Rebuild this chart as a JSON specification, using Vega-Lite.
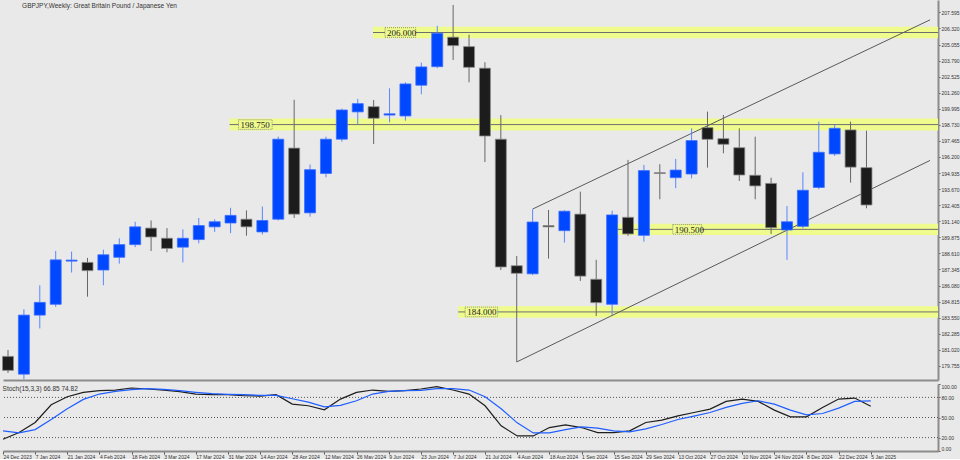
{
  "$schema": "https://vega.github.io/schema/vega-lite/v6.json",
  "background": "#e9e9e9",
  "padding": 0,
  "spacing": 3,
  "config": {
    "view": {"stroke": null},
    "axis": {"labelFont": "Liberation Sans", "labelFontSize": 5, "labelColor": "#333", "grid": false, "title": null, "labelOverlap": false},
    "axisQuantitative": {"labelOverlap": false},
    "title": {"font": "Liberation Sans", "fontSize": 6.5, "fontWeight": "normal", "color": "#333", "anchor": "start"}
  },
  "datasets": {
    "candles": [
      {"d": "2023-12-24", "o": 180.5, "h": 181.0, "l": 179.2, "c": 179.4},
      {"d": "2023-12-31", "o": 179.1, "h": 184.2, "l": 178.7, "c": 183.75},
      {"d": "2024-01-07", "o": 183.75, "h": 186.1, "l": 182.7, "c": 184.75},
      {"d": "2024-01-14", "o": 184.6, "h": 188.8, "l": 184.4, "c": 188.1},
      {"d": "2024-01-21", "o": 188.0, "h": 188.75, "l": 187.1, "c": 188.08},
      {"d": "2024-01-28", "o": 187.9, "h": 188.25, "l": 185.2, "c": 187.25},
      {"d": "2024-02-04", "o": 187.3, "h": 188.9, "l": 186.1, "c": 188.5},
      {"d": "2024-02-11", "o": 188.3, "h": 189.8, "l": 187.8, "c": 189.3},
      {"d": "2024-02-18", "o": 189.3, "h": 191.1, "l": 189.1, "c": 190.7},
      {"d": "2024-02-25", "o": 190.6, "h": 191.2, "l": 188.8, "c": 189.9},
      {"d": "2024-03-03", "o": 189.8, "h": 190.6, "l": 188.7, "c": 189.0},
      {"d": "2024-03-10", "o": 189.1, "h": 190.5, "l": 187.9, "c": 189.8},
      {"d": "2024-03-17", "o": 189.7, "h": 191.4, "l": 189.4, "c": 190.8},
      {"d": "2024-03-24", "o": 190.7, "h": 191.3, "l": 190.3, "c": 191.1},
      {"d": "2024-03-31", "o": 191.0, "h": 192.2, "l": 190.2, "c": 191.6},
      {"d": "2024-04-07", "o": 191.3, "h": 192.0, "l": 190.0, "c": 190.7},
      {"d": "2024-04-14", "o": 190.3, "h": 192.3, "l": 190.1, "c": 191.2},
      {"d": "2024-04-21", "o": 191.3, "h": 197.8, "l": 191.2, "c": 197.6},
      {"d": "2024-04-28", "o": 196.9, "h": 200.7, "l": 191.4, "c": 191.7},
      {"d": "2024-05-05", "o": 191.8, "h": 195.6, "l": 191.5, "c": 195.2},
      {"d": "2024-05-12", "o": 194.9, "h": 197.8, "l": 194.6, "c": 197.6},
      {"d": "2024-05-19", "o": 197.6, "h": 200.0, "l": 197.4, "c": 199.9},
      {"d": "2024-05-26", "o": 199.75, "h": 200.77, "l": 198.8, "c": 200.4},
      {"d": "2024-06-02", "o": 200.16, "h": 200.69, "l": 197.22, "c": 199.25},
      {"d": "2024-06-09", "o": 199.5, "h": 201.61, "l": 198.93, "c": 199.6},
      {"d": "2024-06-16", "o": 199.43, "h": 202.08, "l": 199.06, "c": 201.95},
      {"d": "2024-06-23", "o": 201.85, "h": 203.63, "l": 201.14, "c": 203.29},
      {"d": "2024-06-30", "o": 203.31, "h": 206.52, "l": 203.19, "c": 205.94},
      {"d": "2024-07-07", "o": 205.63, "h": 208.17, "l": 203.84, "c": 204.97},
      {"d": "2024-07-14", "o": 204.89, "h": 205.83, "l": 202.08, "c": 203.26},
      {"d": "2024-07-21", "o": 203.19, "h": 203.66, "l": 195.8, "c": 197.85},
      {"d": "2024-07-28", "o": 197.6, "h": 199.5, "l": 187.3, "c": 187.54},
      {"d": "2024-08-04", "o": 187.64, "h": 188.4, "l": 180.06, "c": 187.04},
      {"d": "2024-08-11", "o": 187.0, "h": 192.08, "l": 186.9, "c": 191.08},
      {"d": "2024-08-18", "o": 190.8, "h": 192.03, "l": 188.2, "c": 190.7},
      {"d": "2024-08-25", "o": 190.4, "h": 192.0, "l": 189.46, "c": 191.93},
      {"d": "2024-09-01", "o": 191.7, "h": 193.47, "l": 186.44, "c": 186.82},
      {"d": "2024-09-08", "o": 186.57, "h": 188.1, "l": 183.68, "c": 184.73},
      {"d": "2024-09-15", "o": 184.6, "h": 191.97, "l": 183.76, "c": 191.64},
      {"d": "2024-09-22", "o": 191.45, "h": 195.97, "l": 189.98, "c": 190.14},
      {"d": "2024-09-29", "o": 190.03, "h": 195.57, "l": 189.53, "c": 195.13},
      {"d": "2024-10-06", "o": 194.96, "h": 195.63, "l": 192.87, "c": 194.9},
      {"d": "2024-10-13", "o": 194.57, "h": 196.05, "l": 193.74, "c": 195.17},
      {"d": "2024-10-20", "o": 194.86, "h": 198.46, "l": 194.52, "c": 197.49},
      {"d": "2024-10-27", "o": 198.51, "h": 199.77, "l": 195.36, "c": 197.59},
      {"d": "2024-11-03", "o": 197.64, "h": 199.51, "l": 196.49, "c": 197.2},
      {"d": "2024-11-10", "o": 196.93, "h": 198.46, "l": 194.31, "c": 194.78},
      {"d": "2024-11-17", "o": 194.76, "h": 197.8, "l": 192.87, "c": 193.92},
      {"d": "2024-11-24", "o": 194.12, "h": 194.57, "l": 190.14, "c": 190.63},
      {"d": "2024-12-01", "o": 190.45, "h": 192.34, "l": 188.1, "c": 191.1},
      {"d": "2024-12-08", "o": 190.74, "h": 195.0, "l": 190.58, "c": 193.58},
      {"d": "2024-12-15", "o": 193.8, "h": 198.98, "l": 193.66, "c": 196.57},
      {"d": "2024-12-22", "o": 196.44, "h": 198.77, "l": 196.28, "c": 198.46},
      {"d": "2024-12-29", "o": 198.33, "h": 198.98, "l": 194.18, "c": 195.4},
      {"d": "2025-01-05", "o": 195.36, "h": 198.27, "l": 192.16, "c": 192.42}
    ],
    "stoch": [
      {"d": "2023-12-24", "k": 17.5, "s": 30},
      {"d": "2023-12-31", "k": 27.5, "s": 27},
      {"d": "2024-01-07", "k": 42.5, "s": 32},
      {"d": "2024-01-14", "k": 69, "s": 47},
      {"d": "2024-01-21", "k": 81, "s": 63},
      {"d": "2024-01-28", "k": 87.5, "s": 77},
      {"d": "2024-02-04", "k": 90, "s": 85},
      {"d": "2024-02-11", "k": 91, "s": 89},
      {"d": "2024-02-18", "k": 94, "s": 91.5},
      {"d": "2024-02-25", "k": 92.5, "s": 93},
      {"d": "2024-03-03", "k": 91, "s": 92},
      {"d": "2024-03-10", "k": 88.5, "s": 90},
      {"d": "2024-03-17", "k": 85, "s": 87.5},
      {"d": "2024-03-24", "k": 84, "s": 85.5},
      {"d": "2024-03-31", "k": 84, "s": 84.5},
      {"d": "2024-04-07", "k": 82.5, "s": 84},
      {"d": "2024-04-14", "k": 82, "s": 83},
      {"d": "2024-04-21", "k": 84, "s": 83},
      {"d": "2024-04-28", "k": 70, "s": 78},
      {"d": "2024-05-05", "k": 67.5, "s": 73},
      {"d": "2024-05-12", "k": 61.5, "s": 66},
      {"d": "2024-05-19", "k": 77.5, "s": 68},
      {"d": "2024-05-26", "k": 87.5, "s": 75},
      {"d": "2024-06-02", "k": 91, "s": 85},
      {"d": "2024-06-09", "k": 89, "s": 89},
      {"d": "2024-06-16", "k": 90, "s": 90},
      {"d": "2024-06-23", "k": 92.5, "s": 90.5},
      {"d": "2024-06-30", "k": 96, "s": 93},
      {"d": "2024-07-07", "k": 91, "s": 93},
      {"d": "2024-07-14", "k": 85, "s": 91},
      {"d": "2024-07-21", "k": 67.5, "s": 81},
      {"d": "2024-07-28", "k": 37.5, "s": 63},
      {"d": "2024-08-04", "k": 22.5, "s": 42},
      {"d": "2024-08-11", "k": 22.5, "s": 27},
      {"d": "2024-08-18", "k": 35, "s": 27},
      {"d": "2024-08-25", "k": 39, "s": 32},
      {"d": "2024-09-01", "k": 35, "s": 36},
      {"d": "2024-09-08", "k": 27.5, "s": 34},
      {"d": "2024-09-15", "k": 27.5, "s": 30},
      {"d": "2024-09-22", "k": 30, "s": 28.5},
      {"d": "2024-09-29", "k": 42.5, "s": 33},
      {"d": "2024-10-06", "k": 46, "s": 39.5},
      {"d": "2024-10-13", "k": 52.5, "s": 47},
      {"d": "2024-10-20", "k": 57.5, "s": 52},
      {"d": "2024-10-27", "k": 62.5, "s": 57.5},
      {"d": "2024-11-03", "k": 74, "s": 65},
      {"d": "2024-11-10", "k": 77.5, "s": 71},
      {"d": "2024-11-17", "k": 74, "s": 75},
      {"d": "2024-11-24", "k": 61, "s": 70},
      {"d": "2024-12-01", "k": 51, "s": 61},
      {"d": "2024-12-08", "k": 51, "s": 54},
      {"d": "2024-12-15", "k": 65, "s": 56},
      {"d": "2024-12-22", "k": 77.5, "s": 64},
      {"d": "2024-12-29", "k": 79, "s": 74},
      {"d": "2025-01-05", "k": 66.85, "s": 74.82}
    ],
    "levels": [
      {"p": 206.0, "lo": 205.55, "hi": 206.45, "bl": 205.62, "bh": 206.38, "s": "2024-06-01T17:00:00Z", "e": "2025-02-20T00:00:00Z", "ls": "2024-06-07T00:00:00Z", "le": "2024-06-20T12:00:00Z", "t": "206.000"},
      {"p": 198.75, "lo": 198.28, "hi": 199.22, "bl": 198.37, "bh": 199.13, "s": "2024-03-30T14:00:00Z", "e": "2025-02-20T00:00:00Z", "ls": "2024-04-03T12:00:00Z", "le": "2024-04-18T07:00:00Z", "t": "198.750"},
      {"p": 190.5, "lo": 190.05, "hi": 190.95, "bl": 190.12, "bh": 190.88, "s": "2024-09-16T22:00:00Z", "e": "2025-02-20T00:00:00Z", "ls": "2024-10-11T17:00:00Z", "le": "2024-10-24T10:00:00Z", "t": "190.500"},
      {"p": 184.0, "lo": 183.55, "hi": 184.45, "bl": 183.62, "bh": 184.38, "s": "2024-07-09T05:00:00Z", "e": "2025-02-20T00:00:00Z", "ls": "2024-07-12T07:00:00Z", "le": "2024-07-26T14:00:00Z", "t": "184.000"}
    ],
    "channel": [
      {"id": "u", "d": "2024-08-11", "p": 192.1},
      {"id": "u", "d": "2025-02-02", "p": 207.0},
      {"id": "l", "d": "2024-08-04", "p": 180.06},
      {"id": "l", "d": "2025-02-02", "p": 195.93}
    ],
    "stochLevels": [{"v": 20}, {"v": 50}, {"v": 80}]
  },
  "vconcat": [
    {
      "width": 935,
      "height": 380,
      "title": {"text": "GBPJPY,Weekly:  Great Britain Pound / Japanese Yen", "offset": -9, "dx": 20, "baseline": "top"},
      "encoding": {
        "x": {"field": "d", "type": "temporal", "scale": {"type": "utc", "domain": [1703376000000, 1738566000000]},
              "axis": {"labels": false, "ticks": false, "domain": true, "domainColor": "#8c8c8c", "domainWidth": 2}},
        "y": {"type": "quantitative", "scale": {"domain": [178.64, 208.56], "nice": false, "zero": false},
              "axis": {"orient": "right", "values": [179.755, 181.02, 182.285, 183.55, 184.815, 186.08, 187.345, 188.61, 189.875, 191.14, 192.405, 193.67, 194.935, 196.2, 197.465, 198.73, 199.995, 201.26, 202.525, 203.79, 205.055, 206.32, 207.595],
                       "format": ".3f", "labelOverlap": false, "labelFontSize": 5, "tickSize": 2, "tickColor": "#555", "domainColor": "#8c8c8c", "domainWidth": 2, "labelPadding": 1}}
      },
      "layer": [
        {
          "data": {"name": "levels"},
          "mark": {"type": "rect", "color": "#effb8d", "clip": true},
          "encoding": {
            "x": {"field": "s", "type": "temporal"},
            "x2": {"field": "e"},
            "y": {"field": "lo", "type": "quantitative"},
            "y2": {"field": "hi"}
          }
        },
        {
          "data": {"name": "levels"},
          "mark": {"type": "rule", "color": "#6e6e6e", "strokeWidth": 1, "clip": true},
          "encoding": {
            "x": {"field": "s", "type": "temporal"},
            "x2": {"field": "e"},
            "y": {"field": "p", "type": "quantitative"}
          }
        },
        {
          "data": {"name": "channel"},
          "mark": {"type": "line", "color": "#5a5a5a", "strokeWidth": 1, "clip": true},
          "encoding": {
            "x": {"field": "d", "type": "temporal"},
            "y": {"field": "p", "type": "quantitative"},
            "detail": {"field": "id"}
          }
        },
        {
          "data": {"name": "levels"},
          "mark": {"type": "rect", "fill": "#effb8d", "stroke": "#777", "strokeWidth": 0.8, "strokeDash": [1, 1]},
          "encoding": {
            "x": {"field": "ls", "type": "temporal"},
            "x2": {"field": "le"},
            "y": {"field": "bl", "type": "quantitative"},
            "y2": {"field": "bh"}
          }
        },
        {
          "data": {"name": "levels"},
          "mark": {"type": "text", "align": "left", "baseline": "middle", "dx": 2, "dy": 0.5, "font": "Liberation Serif", "fontSize": 9, "color": "#222"},
          "encoding": {
            "x": {"field": "ls", "type": "temporal"},
            "y": {"field": "p", "type": "quantitative"},
            "text": {"field": "t"}
          }
        },
        {
          "data": {"name": "candles"},
          "mark": {"type": "rule", "strokeWidth": 1},
          "encoding": {
            "x": {"field": "d", "type": "temporal"},
            "y": {"field": "l", "type": "quantitative"},
            "y2": {"field": "h"},
            "color": {"condition": {"test": "datum.c >= datum.o", "value": "#5a86ff"}, "value": "#666666"}
          }
        },
        {
          "data": {"name": "candles"},
          "mark": {"type": "bar", "size": 11, "strokeWidth": 0.8},
          "encoding": {
            "x": {"field": "d", "type": "temporal"},
            "y": {"field": "o", "type": "quantitative"},
            "y2": {"field": "c"},
            "color": {"condition": {"test": "datum.c >= datum.o", "value": "#0048ff"}, "value": "#1c1c1c"},
            "stroke": {"condition": {"test": "datum.c >= datum.o", "value": "#3d6dff"}, "value": "#8a8a8a"}
          }
        }
      ]
    },
    {
      "width": 935,
      "height": 67,
      "title": {"text": "Stoch(15,3,3) 66.85 74.82", "offset": -9, "dx": 2, "baseline": "top"},
      "encoding": {
        "x": {"field": "d", "type": "temporal", "scale": {"type": "utc", "domain": [1703376000000, 1738566000000]},
              "axis": {"orient": "bottom", "format": "%-d %b %Y", "labelAlign": "left", "labelDx": 1, "labelPadding": 0, "labelFontSize": 5, "tickSize": 3, "tickColor": "#555", "domainColor": "#8c8c8c", "domainWidth": 2,
                       "values": [
                         {"year": 2023, "month": 12, "date": 24, "utc": true},
                         {"year": 2024, "month": 1, "date": 7, "utc": true},
                         {"year": 2024, "month": 1, "date": 21, "utc": true},
                         {"year": 2024, "month": 2, "date": 4, "utc": true},
                         {"year": 2024, "month": 2, "date": 18, "utc": true},
                         {"year": 2024, "month": 3, "date": 3, "utc": true},
                         {"year": 2024, "month": 3, "date": 17, "utc": true},
                         {"year": 2024, "month": 3, "date": 31, "utc": true},
                         {"year": 2024, "month": 4, "date": 14, "utc": true},
                         {"year": 2024, "month": 4, "date": 28, "utc": true},
                         {"year": 2024, "month": 5, "date": 12, "utc": true},
                         {"year": 2024, "month": 5, "date": 26, "utc": true},
                         {"year": 2024, "month": 6, "date": 9, "utc": true},
                         {"year": 2024, "month": 6, "date": 23, "utc": true},
                         {"year": 2024, "month": 7, "date": 7, "utc": true},
                         {"year": 2024, "month": 7, "date": 21, "utc": true},
                         {"year": 2024, "month": 8, "date": 4, "utc": true},
                         {"year": 2024, "month": 8, "date": 18, "utc": true},
                         {"year": 2024, "month": 9, "date": 1, "utc": true},
                         {"year": 2024, "month": 9, "date": 15, "utc": true},
                         {"year": 2024, "month": 9, "date": 29, "utc": true},
                         {"year": 2024, "month": 10, "date": 13, "utc": true},
                         {"year": 2024, "month": 10, "date": 27, "utc": true},
                         {"year": 2024, "month": 11, "date": 10, "utc": true},
                         {"year": 2024, "month": 11, "date": 24, "utc": true},
                         {"year": 2024, "month": 12, "date": 8, "utc": true},
                         {"year": 2024, "month": 12, "date": 22, "utc": true},
                         {"year": 2025, "month": 1, "date": 5, "utc": true}
                       ]}},
        "y": {"type": "quantitative", "scale": {"domain": [0, 100], "nice": false},
              "axis": {"orient": "right", "values": [0, 20, 50, 80, 100], "format": ".2f", "labelFlush": true, "labelOverlap": false, "labelFontSize": 5, "tickSize": 2, "tickColor": "#555", "domainColor": "#8c8c8c", "domainWidth": 2, "labelPadding": 1}}
      },
      "layer": [
        {
          "data": {"name": "stochLevels"},
          "mark": {"type": "rule", "color": "#555", "strokeWidth": 1, "strokeDash": [1, 2]},
          "encoding": {
            "x": null,
            "y": {"field": "v", "type": "quantitative"}
          }
        },
        {
          "data": {"name": "stoch"},
          "mark": {"type": "line", "color": "#1e1e1e", "strokeWidth": 1.2},
          "encoding": {"y": {"field": "k", "type": "quantitative"}}
        },
        {
          "data": {"name": "stoch"},
          "mark": {"type": "line", "color": "#1f5eff", "strokeWidth": 1.2},
          "encoding": {"y": {"field": "s", "type": "quantitative"}}
        }
      ]
    }
  ]
}
